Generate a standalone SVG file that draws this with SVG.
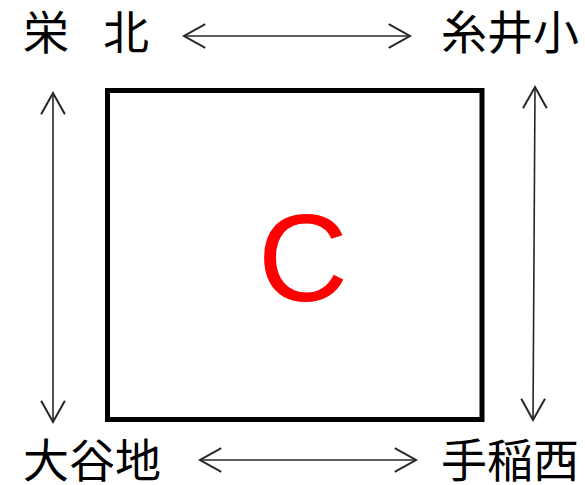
<svg xmlns="http://www.w3.org/2000/svg" width="585" height="485" viewBox="0 0 585 485">
<style>
.lbl{font-family:"Noto Sans CJK JP","Noto Sans CJK SC",sans-serif;font-size:46px;fill:#000}
.conn{stroke:#262626;stroke-width:1.6;fill:none}
</style>
<defs>
<marker id="ah" markerUnits="userSpaceOnUse" markerWidth="30" markerHeight="30" viewBox="-20 -12 24 24" refX="0" refY="0" orient="auto-start-reverse">
<path d="M-17,-9.5 L0,0 L-17,9.5" fill="none" stroke="#262626" stroke-width="1.6"/>
</marker>
</defs>
<rect width="585" height="485" fill="#fff"/>
<g id="center">
<rect x="107.5" y="90.5" width="374.5" height="329" fill="none" stroke="#000" stroke-width="5"/>
<text x="303" y="301" text-anchor="middle" font-family="Liberation Sans, Arial, sans-serif" font-size="125" fill="#ff0000">C</text>
</g>
<g id="sakaekita"><text class="lbl" y="49"><tspan x="23">栄</tspan><tspan x="103">北</tspan></text></g>
<g id="itoishou"><text class="lbl" x="441" y="49">糸井小</text></g>
<g id="ooyachi"><text class="lbl" x="23" y="477">大谷地</text></g>
<g id="teinenishi"><text class="lbl" x="441" y="477">手稲西</text></g>
<g id="connectors">
<line class="conn" x1="184" y1="36" x2="410" y2="36" marker-start="url(#ah)" marker-end="url(#ah)"/>
<line class="conn" x1="200" y1="460" x2="416" y2="460" marker-start="url(#ah)" marker-end="url(#ah)"/>
<line class="conn" x1="53" y1="93" x2="53" y2="422" marker-start="url(#ah)" marker-end="url(#ah)"/>
<line class="conn" x1="535" y1="87" x2="533" y2="420" marker-start="url(#ah)" marker-end="url(#ah)"/>
</g>
</svg>
